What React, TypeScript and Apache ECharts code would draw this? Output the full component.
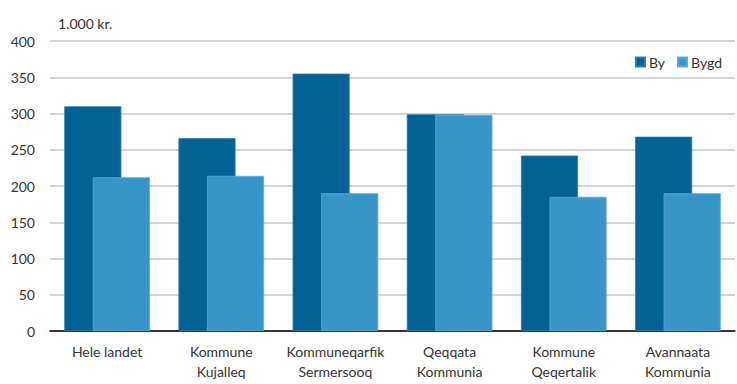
import React, { useEffect, useRef } from "react";
import * as echarts from "echarts";

const categories = [
  "Hele landet",
  "Kommune\nKujalleq",
  "Kommuneqarfik\nSermersooq",
  "Qeqqata\nKommunia",
  "Kommune\nQeqertalik",
  "Avannaata\nKommunia",
];
const byValues = [310, 266, 355, 299, 242, 268];
const bygdValues = [212, 214, 190, 298, 185, 190];
const seriesNames = ["By", "Bygd"];
const unitLabel = "1.000 kr.";

const FONT = "Lato, 'Open Sans', sans-serif";

export default function App() {
  const ref = useRef<HTMLDivElement>(null);
  useEffect(() => {
    document.body.style.margin = "0";
    if (!ref.current) return;
    const chart = echarts.init(ref.current, undefined, { renderer: "svg" });
    chart.setOption({
      animation: false,
      backgroundColor: "#ffffff",
      textStyle: { fontFamily: FONT },
      grid: { left: 50, right: 2, top: 41, bottom: 53, containLabel: false },
      legend: {
        data: seriesNames,
        right: 10,
        top: 50,
        itemWidth: 9,
        itemHeight: 9,
        itemGap: 12,
        icon: "rect",
        textStyle: { fontFamily: FONT, fontSize: 14, color: "#333", padding: [0, 0, 0, -1] },
      },
      graphic: [
        {
          type: "text",
          left: 58,
          top: 16,
          style: { text: unitLabel, fontFamily: FONT, fontSize: 14, fill: "#333" },
        },
      ],
      xAxis: {
        type: "category",
        data: categories,
        axisLine: { lineStyle: { color: "#000", width: 1.5 } },
        axisTick: { show: false },
        axisLabel: {
          color: "#333",
          fontFamily: FONT,
          fontSize: 14,
          lineHeight: 20,
          margin: 10,
          interval: 0,
        },
      },
      yAxis: {
        type: "value",
        min: 0,
        max: 400,
        interval: 50,
        axisLine: { show: false },
        axisTick: { show: false },
        splitLine: { lineStyle: { color: "#c6c6c6", width: 1.5 } },
        axisLabel: { color: "#333", fontFamily: FONT, fontSize: 14, margin: 15 },
      },
      series: [
        {
          name: seriesNames[0],
          type: "bar",
          data: byValues,
          barCategoryGap: "25%",
          barGap: "-50%",
          itemStyle: { color: "#036295", borderColor: "#2f7fb0", borderWidth: 0.8 },
        },
        {
          name: seriesNames[1],
          type: "bar",
          data: bygdValues,
          barCategoryGap: "25%",
          barGap: "-50%",
          itemStyle: { color: "#3995c9", borderColor: "#5aaad6", borderWidth: 0.8 },
        },
      ],
    });
    return () => chart.dispose();
  }, []);
  return <div ref={ref} style={{ width: 737, height: 384 }} />;
}
